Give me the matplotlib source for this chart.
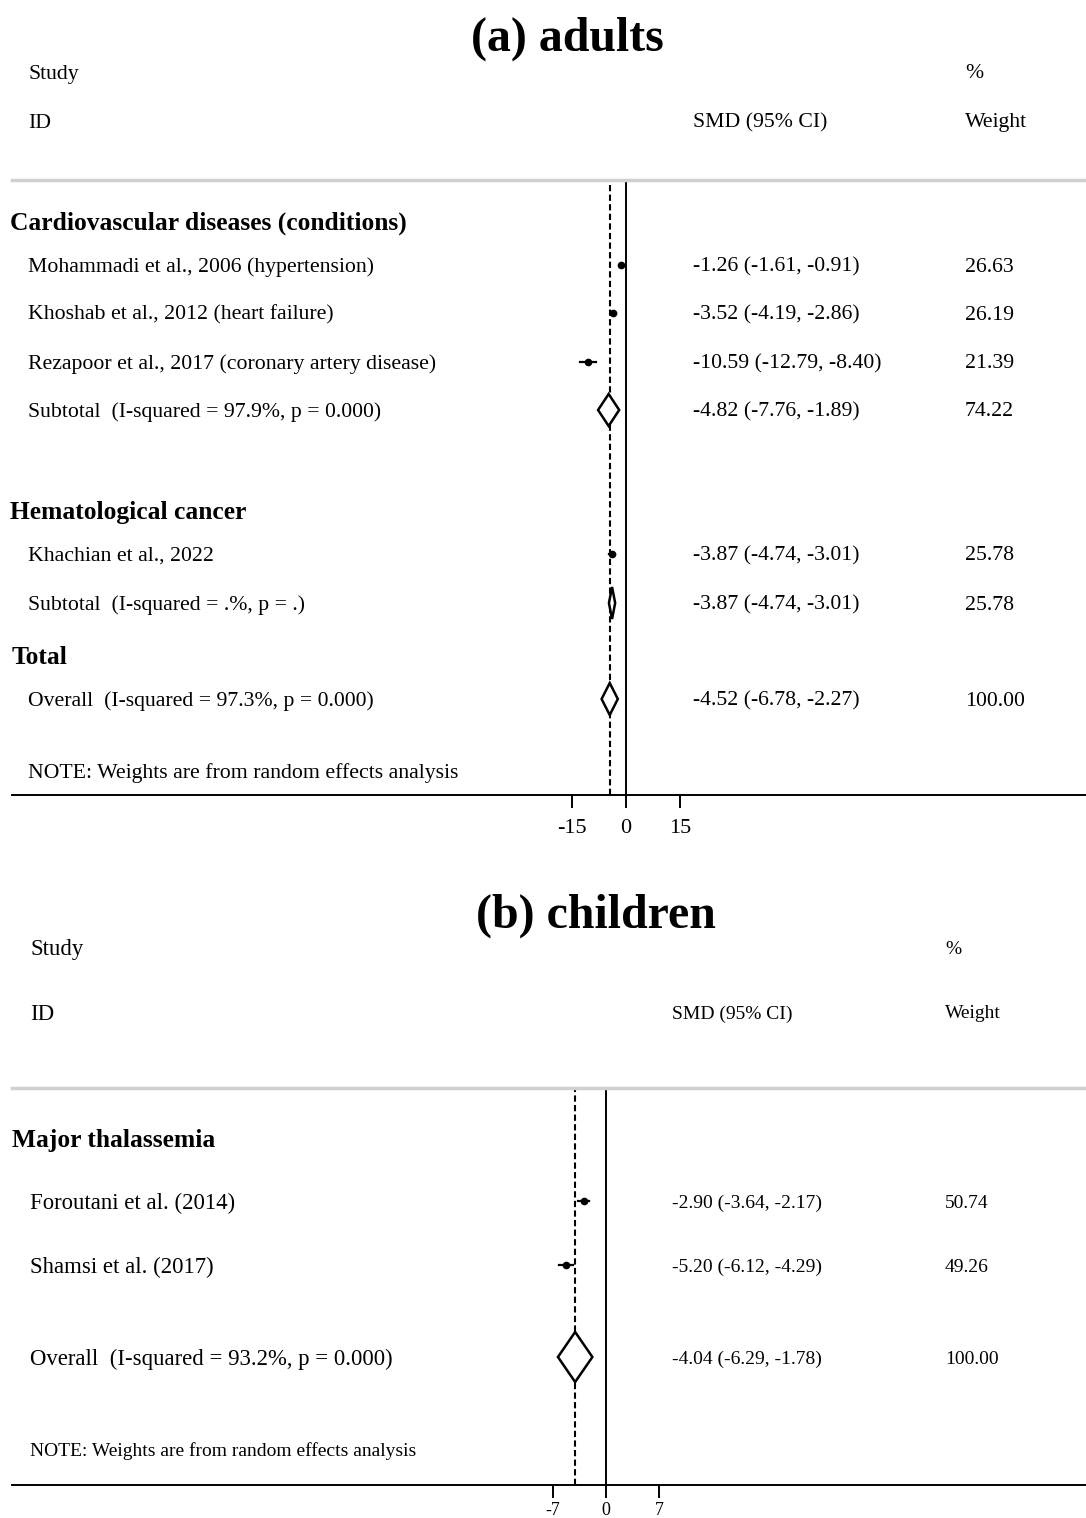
import numpy as np
import matplotlib

matplotlib.use("Agg")
import matplotlib.pyplot as plt

plt.rcParams["font.family"] = ["Liberation Serif", "DejaVu Serif"]

# ---- (a) adults ----
a_groups = ["Cardiovascular diseases (conditions)", "Hematological cancer"]
a_studies = [
    "Mohammadi et al., 2006 (hypertension)",
    "Khoshab et al., 2012 (heart failure)",
    "Rezapoor et al., 2017 (coronary artery disease)",
    "Khachian et al., 2022",
]
a_smd = [-1.26, -3.52, -10.59, -3.87]
a_lo = [-1.61, -4.19, -12.79, -4.74]
a_hi = [-0.91, -2.86, -8.40, -3.01]
a_wt = [26.63, 26.19, 21.39, 25.78]
a_sub_labels = ["Subtotal  (I-squared = 97.9%, p = 0.000)",
                "Subtotal  (I-squared = .%, p = .)"]
a_sub_smd = [-4.82, -3.87]
a_sub_lo = [-7.76, -4.74]
a_sub_hi = [-1.89, -3.01]
a_sub_wt = [74.22, 25.78]
a_overall_label = "Overall  (I-squared = 97.3%, p = 0.000)"
a_overall = (-4.52, -6.78, -2.27, 100.00)
a_ticks = [-15, 0, 15]

# ---- (b) children ----
b_group = "Major thalassemia"
b_studies = ["Foroutani et al. (2014)", "Shamsi et al. (2017)"]
b_smd = [-2.90, -5.20]
b_lo = [-3.64, -6.12]
b_hi = [-2.17, -4.29]
b_wt = [50.74, 49.26]
b_overall_label = "Overall  (I-squared = 93.2%, p = 0.000)"
b_overall = (-4.04, -6.29, -1.78, 100.00)
b_ticks = [-7, 0, 7]

NOTE = "NOTE: Weights are from random effects analysis"

W, H = 1086, 1518
fig = plt.figure(figsize=(W / 100, H / 100), dpi=100)

# pixel-space overlay for the text columns
tx = fig.add_axes([0, 0, 1, 1])
tx.set_xlim(0, W)
tx.set_ylim(H, 0)
tx.axis("off")


def put(x, y, s, size, **kw):
    # small downward nudge so text sits centred on the row
    tx.text(x, y + 2, s, va="center", fontsize=size, **kw)


def ci_text(e, lo, hi):
    return f"{e:.2f} ({lo:.2f}, {hi:.2f})"


def panel(top, bottom, zero_px, px_per_unit, ticks, tick_fs, pad):
    ax = fig.add_axes([12 / W, 1 - bottom / H, (W - 12) / W, (bottom - top) / H])
    ax.set_facecolor("none")
    ax.set_xlim((12 - zero_px) / px_per_unit, (W - zero_px) / px_per_unit)
    ax.set_ylim(bottom, top)
    for s in ("left", "right"):
        ax.spines[s].set_visible(False)
    ax.spines["top"].set_color("#d0d0d0")
    ax.spines["top"].set_linewidth(2.5)
    ax.spines["bottom"].set_linewidth(1.4)
    ax.set_yticks([])
    ax.set_xticks(ticks)
    ax.set_xticklabels([str(t) for t in ticks])
    ax.tick_params(axis="x", direction="out", length=9, width=1.4, pad=pad,
                   labelsize=tick_fs)
    ax.axvline(0, color="black", lw=1.4, zorder=1)
    return ax


def diamond(ax, y, e, lo, hi, half):
    xs = [lo, e, hi, e, lo]
    ys = [y, y - half, y, y + half, y]
    ax.fill(xs, ys, facecolor="white", edgecolor="black", lw=1.8, zorder=4)


def study(ax, y, e, lo, hi):
    ax.plot([lo, hi], [y, y], color="black", lw=1.6, zorder=3)
    ax.plot([e], [y], "o", color="black", ms=4.5, zorder=3)


# ---------------- panel (a) ----------------
fs = 15.7
fg = 18.4
tx.text(567, 39, "(a) adults", ha="center", va="center", fontsize=34.5,
        fontweight="bold")
put(28, 72, "Study", fs)
put(28, 121, "ID", fs)
put(693, 121, "SMD (95% CI)", fs)
put(965, 72, "%", fs)
put(965, 121, "Weight", fs)

axa = panel(180, 795, 626, 3.6, a_ticks, 16, 8)
axa.axvline(a_overall[0], color="black", lw=1.5, ls=(0, (3, 1.6)), zorder=2)

a_group_y = [221, 510]
a_study_y = [265, 313, 362, 554]
a_sub_y = [410, 603]

for name, y in zip(a_groups, a_group_y):
    put(10, y, name, fg, fontweight="bold")
for name, y, e, lo, hi, w in zip(a_studies, a_study_y, a_smd, a_lo, a_hi, a_wt):
    put(28, y, name, fs)
    put(693, y, ci_text(e, lo, hi), fs)
    put(965, y, f"{w:.2f}", fs)
    study(axa, y, e, lo, hi)
for name, y, e, lo, hi, w in zip(a_sub_labels, a_sub_y, a_sub_smd, a_sub_lo,
                                 a_sub_hi, a_sub_wt):
    put(28, y, name, fs)
    put(693, y, ci_text(e, lo, hi), fs)
    put(965, y, f"{w:.2f}", fs)
    diamond(axa, y, e, lo, hi, 16)

put(12, 656, "Total", fg, fontweight="bold")
e, lo, hi, w = a_overall
put(28, 699, a_overall_label, fs)
put(693, 699, ci_text(e, lo, hi), fs)
put(965, 699, f"{w:.2f}", fs)
diamond(axa, 699, e, lo, hi, 16)
put(28, 771, NOTE, fs)

# ---------------- panel (b) ----------------
fb = 16.4
fn = 14
tx.text(596, 916, "(b) children", ha="center", va="center", fontsize=34.5,
        fontweight="bold")
put(30, 948, "Study", fb)
put(30, 1012, "ID", fb)
put(672, 1012, "SMD (95% CI)", fn)
put(945, 948, "%", fn)
put(945, 1012, "Weight", fn)

axb = panel(1088, 1485, 606, 7.64, b_ticks, 13, 3)
axb.axvline(b_overall[0], color="black", lw=1.5, ls=(0, (3, 1.6)), zorder=2)

put(12, 1138, b_group, fg, fontweight="bold")
b_study_y = [1201, 1265]
for name, y, e, lo, hi, w in zip(b_studies, b_study_y, b_smd, b_lo, b_hi, b_wt):
    put(30, y, name, fb)
    put(672, y, ci_text(e, lo, hi), fn)
    put(945, y, f"{w:.2f}", fn)
    study(axb, y, e, lo, hi)

e, lo, hi, w = b_overall
put(30, 1357, b_overall_label, fb)
put(672, 1357, ci_text(e, lo, hi), fn)
put(945, 1357, f"{w:.2f}", fn)
diamond(axb, 1357, e, lo, hi, 25)
put(30, 1449, NOTE, fn)

fig.savefig("out.png", dpi=100)
